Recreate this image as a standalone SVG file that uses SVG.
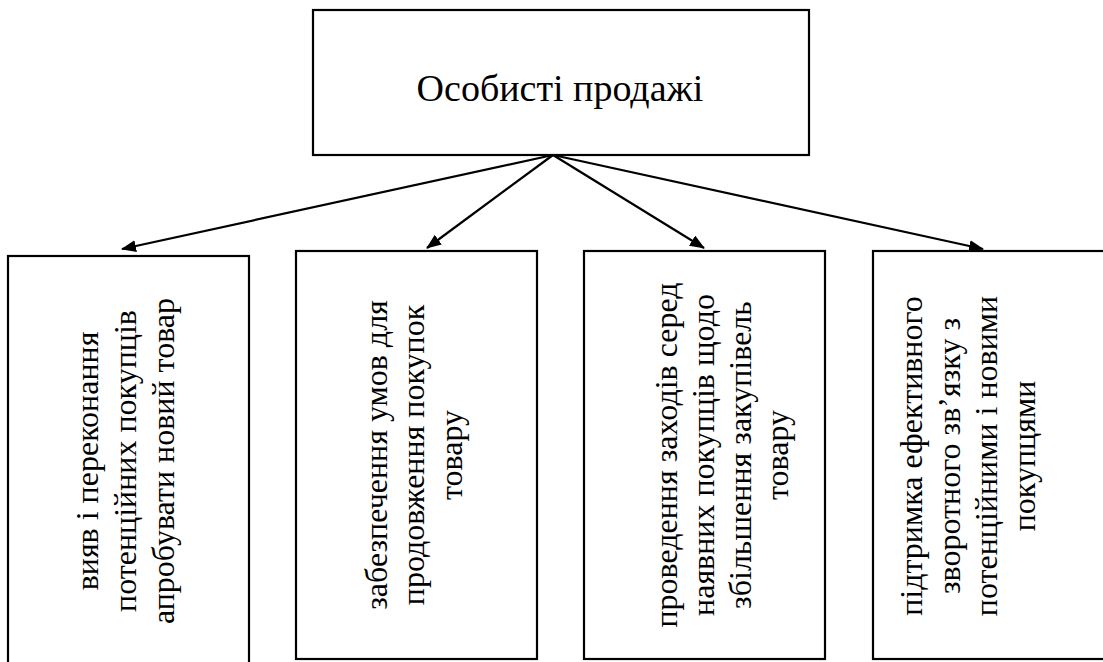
<svg xmlns="http://www.w3.org/2000/svg" width="1103" height="662" viewBox="0 0 1103 662">
<style>
.box{fill:#fff;stroke:#000;stroke-width:2.2}
.t{font-family:'Liberation Serif','Times New Roman',serif;font-size:32px;fill:#000;text-anchor:middle}
.c{stroke:#000;stroke-width:2.2;fill:none;marker-end:url(#ah)}
</style>
<defs>
<marker id="ah" markerWidth="15" markerHeight="12" refX="14" refY="6" orient="auto" markerUnits="userSpaceOnUse">
<path d="M0,0 L15,6 L0,12 Z" fill="#000"/>
</marker>
</defs>
<rect width="1103" height="662" fill="#fff"/>
<g id="root">
<rect class="box" x="313" y="10" width="496" height="145"/>
<text class="t" x="560" y="101" style="font-size:38px">Особисті продажі</text>
</g>
<g id="n1">
<rect class="box" x="8" y="256" width="241" height="420"/>
<g transform="translate(0,461) rotate(-90)">
<text class="t" x="0" y="98">вияв і переконання</text>
<text class="t" x="0" y="136">потенційних покупців</text>
<text class="t" x="0" y="174">апробувати новий товар</text>
</g>
</g>
<g id="n2">
<rect class="box" x="296" y="251" width="241" height="408"/>
<g transform="translate(0,455) rotate(-90)">
<text class="t" x="0" y="387">забезпечення умов для</text>
<text class="t" x="0" y="424">продовження покупок</text>
<text class="t" x="0" y="462">товару</text>
</g>
</g>
<g id="n3">
<rect class="box" x="584" y="251" width="241" height="408"/>
<g transform="translate(0,455) rotate(-90)">
<text class="t" x="0" y="677">проведення заходів серед</text>
<text class="t" x="0" y="714">наявних покупців щодо</text>
<text class="t" x="0" y="751">збільшення закупівель</text>
<text class="t" x="0" y="788">товару</text>
</g>
</g>
<g id="n4">
<rect class="box" x="873" y="251" width="250" height="408"/>
<g transform="translate(0,456) rotate(-90)">
<text class="t" x="0" y="922">підтримка ефективного</text>
<text class="t" x="0" y="960">зворотного зв’язку з</text>
<text class="t" x="0" y="997">потенційними і новими</text>
<text class="t" x="0" y="1035">покупцями</text>
</g>
</g>
<g id="connectors">
<line class="c" x1="553" y1="155" x2="122" y2="249"/>
<line class="c" x1="553" y1="155" x2="427" y2="248"/>
<line class="c" x1="553" y1="155" x2="704" y2="248"/>
<line class="c" x1="553" y1="155" x2="983" y2="249"/>
</g>
</svg>
